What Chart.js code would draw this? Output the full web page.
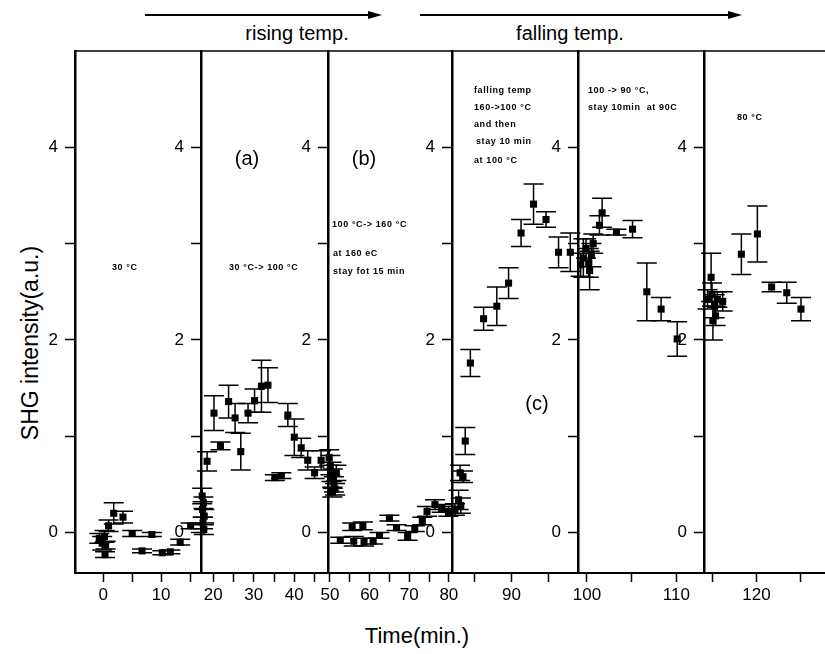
<!DOCTYPE html>
<html>
<head>
<meta charset="utf-8">
<script src="https://cdn.jsdelivr.net/npm/chart.js@4.4.1/dist/chart.umd.min.js"></script>
<style>
  body { margin: 0; background: #fff; }
  #wrap { position: relative; width: 825px; height: 654px; overflow: hidden; font-family: "Liberation Sans", Arial, sans-serif; color: #000; }
  canvas { position: absolute; top: 0; }
  .note { position: absolute; font-weight: bold; font-size: 9px; letter-spacing: 0.6px; white-space: pre; line-height: 17px; }
  .tag { position: absolute; font-size: 20px; transform: translate(-50%, -50%); }
  .head { position: absolute; font-size: 20px; transform: translate(-50%, -50%); white-space: pre; }
  .arrow { position: absolute; height: 1.5px; background: #000; }
  .head-tri { position: absolute; width: 0; height: 0; border-top: 4px solid transparent; border-bottom: 4px solid transparent; border-left: 14px solid #000; }
</style>
</head>
<body>
<div id="wrap">
  <div class="arrow" style="left:145px; top:14px; width:225px;"></div>
  <div class="head-tri" style="left:368px; top:10.5px;"></div>
  <div class="head" style="left:297px; top:33px;">rising temp.</div>
  <div class="arrow" style="left:420px; top:14px; width:310px;"></div>
  <div class="head-tri" style="left:728px; top:10.5px;"></div>
  <div class="head" style="left:570px; top:33px;">falling temp.</div>

  <div class="head" style="left:30px; top:343px; font-size:23px; transform: translate(-50%, -50%) rotate(-90deg);">SHG intensity(a.u.)</div>
  <div class="head" style="left:417px; top:636px; font-size:22px;">Time(min.)</div>
</div>
<script>
// panel 1 : 30 C
var p1Time = [-0.7, -0.2, 0.2, 0.4, 0.3, 0.9, 1.8, 3.4, 5.0, 6.7, 8.4, 10.2, 11.6, 13.3, 15.1];
var p1SHG  = [-0.06, -0.11, -0.04, -0.13, -0.23, 0.07, 0.20, 0.16, -0.01, -0.19, -0.02, -0.21, -0.20, -0.10, 0.07];
var p1Err  = [0.05, 0.07, 0.06, 0.04, 0.03, 0.06, 0.11, 0.06, 0.03, 0.02, 0.02, 0.02, 0.02, 0.03, 0.03];
// panel 2 : 30 -> 100 C
var p2Time = [17.3, 17.6, 17.4, 17.8, 17.5, 17.7, 18.5, 20.2, 21.8, 23.8, 25.4, 26.8, 28.6, 30.2, 31.9, 33.5, 35.2, 36.8, 38.4, 40.0, 41.7, 43.3, 45.0, 46.6];
var p2SHG  = [0.38, 0.31, 0.24, 0.17, 0.10, 0.03, 0.74, 1.24, 0.90, 1.36, 1.19, 0.84, 1.24, 1.37, 1.52, 1.53, 0.57, 0.59, 1.22, 0.99, 0.88, 0.75, 0.62, 0.75];
var p2Err  = [0.08, 0.06, 0.08, 0.07, 0.06, 0.05, 0.10, 0.18, 0.04, 0.17, 0.15, 0.19, 0.10, 0.12, 0.27, 0.18, 0.03, 0.03, 0.12, 0.19, 0.10, 0.10, 0.06, 0.10];
// panel 3 : 100 -> 160 C
var p3Time = [49.8, 50.1, 50.4, 50.7, 51.0, 51.3, 50.6, 51.6, 52.6, 55.6, 56.0, 58.3, 58.6, 60.9, 62.5, 65.0, 66.8, 69.6, 71.4, 73.3, 74.5, 76.5, 78.2, 79.9];
var p3SHG  = [0.78, 0.70, 0.63, 0.56, 0.50, 0.45, 0.42, 0.62, -0.08, 0.06, -0.09, 0.07, -0.10, -0.09, -0.03, 0.15, 0.05, -0.04, 0.04, 0.12, 0.22, 0.29, 0.25, 0.22];
var p3Err  = [0.08, 0.10, 0.10, 0.10, 0.08, 0.06, 0.05, 0.08, 0.03, 0.04, 0.05, 0.04, 0.04, 0.03, 0.03, 0.03, 0.03, 0.04, 0.03, 0.04, 0.05, 0.05, 0.04, 0.05];
// panel 4 : 160 -> 100 C
var p4Time = [82.3, 82.8, 83.1, 83.0, 83.4, 83.7, 84.4, 86.2, 88.0, 89.6, 91.3, 93.0, 94.7, 96.4, 98.0];
var p4SHG  = [0.24, 0.34, 0.28, 0.62, 0.58, 0.95, 1.76, 2.22, 2.35, 2.59, 3.11, 3.41, 3.25, 2.91, 2.91];
var p4Err  = [0.06, 0.10, 0.08, 0.08, 0.06, 0.14, 0.14, 0.12, 0.20, 0.16, 0.14, 0.21, 0.08, 0.16, 0.20];
// panel 5 : 100 -> 90 C
var p5Time = [99.3, 99.6, 99.9, 100.2, 100.5, 100.7, 100.3, 101.4, 101.7, 103.3, 105.1, 106.7, 108.3, 110.1];
var p5SHG  = [2.78, 2.85, 2.95, 2.80, 2.88, 3.00, 2.72, 3.19, 3.32, 3.12, 3.15, 2.50, 2.32, 2.01];
var p5Err  = [0.12, 0.20, 0.10, 0.15, 0.12, 0.10, 0.20, 0.10, 0.15, 0.03, 0.09, 0.30, 0.12, 0.18];
// panel 6 : 80 C
var p6Time = [114.5, 114.9, 115.0, 115.4, 115.1, 115.6, 116.2, 115.3, 118.3, 120.1, 121.7, 123.4, 125.0];
var p6SHG  = [2.42, 2.65, 2.47, 2.25, 2.20, 2.42, 2.40, 2.35, 2.89, 3.10, 2.55, 2.49, 2.32];
var p6Err  = [0.10, 0.25, 0.12, 0.10, 0.20, 0.08, 0.10, 0.12, 0.21, 0.29, 0.05, 0.11, 0.12];

// axis ranges of the six stacked graphs
var xMins = [-4.9, 17, 49.5, 81.9, 99.0, 114.1];
var xMaxs = [16.9, 48.3, 80.8, 99.05, 113.1, 127.7];
var yMin = -0.42, yMax = 5.0;
var yTickLabels = [0, 2, 4];

// panel notes
var notes = [
  [{x: 112, y: 267, t: "30 \u00b0C"}],
  [{x: 229, y: 267, t: "30 \u00b0C-> 100 \u00b0C"}],
  [{x: 332, y: 224, t: "100 \u00b0C-> 160 \u00b0C"}, {x: 333, y: 253, t: "at 160 eC"}, {x: 333, y: 271, t: "stay fot 15 min"}],
  [{x: 474, y: 90, t: "falling temp"}, {x: 474, y: 107, t: "160->100 \u00b0C"}, {x: 474, y: 124, t: "and then"}, {x: 476, y: 141, t: "stay 10 min"}, {x: 474, y: 160, t: "at 100 \u00b0C"}],
  [{x: 588, y: 90, t: "100 -> 90 \u00b0C,"}, {x: 588, y: 107, t: "stay 10min  at 90C"}],
  [{x: 737, y: 117, t: "80 \u00b0C"}]
];
var tags = [{x: 247, y: 158, t: "(a)"}, {x: 364, y: 158, t: "(b)"}, {x: 537, y: 403, t: "(c)"}];

var panels = [
  {t: p1Time, s: p1SHG, e: p1Err},
  {t: p2Time, s: p2SHG, e: p2Err},
  {t: p3Time, s: p3SHG, e: p3Err},
  {t: p4Time, s: p4SHG, e: p4Err},
  {t: p5Time, s: p5SHG, e: p5Err},
  {t: p6Time, s: p6SHG, e: p6Err}
];
var panelLeft = [75, 201, 328, 452, 578, 704];
var panelRight = [201, 328, 452, 578, 704, 825];

var YW = 45, XH = 40, RP = 20, TOP = 51, BOTTOM = 573;

var errorBars = {
  id: 'errorBars',
  afterDatasetsDraw: function (chart) {
    var ctx = chart.ctx, xs = chart.scales.x, ys = chart.scales.y;
    var ds = chart.data.datasets[0];
    ctx.save();
    ctx.strokeStyle = '#000';
    ctx.lineWidth = 1.5;
    ds.data.forEach(function (p, i) {
      var px = xs.getPixelForValue(p.x);
      var top = ys.getPixelForValue(p.y + ds.err[i]);
      var bot = ys.getPixelForValue(p.y - ds.err[i]);
      ctx.beginPath();
      ctx.moveTo(px, top); ctx.lineTo(px, bot);
      ctx.moveTo(px - 10, top); ctx.lineTo(px + 10, top);
      ctx.moveTo(px - 10, bot); ctx.lineTo(px + 10, bot);
      ctx.stroke();
    });
    // top frame
    var a = chart.chartArea;
    ctx.lineWidth = 1.5;
    ctx.beginPath();
    ctx.moveTo(a.left, a.top); ctx.lineTo(a.right + 1, a.top);
    ctx.stroke();
    ctx.restore();
  }
};

var wrap = document.getElementById('wrap');
var tickFont = {family: 'Liberation Sans', size: 17};

panels.forEach(function (p, i) {
  var cv = document.createElement('canvas');
  cv.width = panelRight[i] - panelLeft[i] + YW + RP;
  cv.height = 654;
  cv.style.left = (panelLeft[i] - YW) + 'px';
  wrap.appendChild(cv);

  var pts = p.t.map(function (t, k) { return {x: t, y: p.s[k]}; });

  new Chart(cv, {
    type: 'scatter',
    data: {
      datasets: [{
        data: pts,
        err: p.e,
        pointStyle: 'rect',
        pointRadius: 5,
        backgroundColor: '#000',
        borderColor: '#000',
        borderWidth: 0,
        clip: false
      }]
    },
    options: {
      responsive: false,
      animation: false,
      events: [],
      layout: {padding: {left: 0, right: RP, top: TOP, bottom: 654 - BOTTOM - XH}},
      plugins: {legend: {display: false}, tooltip: {enabled: false}},
      scales: {
        x: {
          type: 'linear',
          min: xMins[i],
          max: xMaxs[i],
          afterFit: function (s) { s.height = XH; },
          grid: {drawOnChartArea: false, tickLength: 9, tickWidth: 1.5, tickColor: '#000'},
          border: {display: true, color: '#000', width: 2},
          ticks: {
            stepSize: 5, includeBounds: false, autoSkip: false, maxRotation: 0,
            padding: 3, color: '#000', font: tickFont,
            callback: function (v) { return Math.abs(v % 10) < 1e-6 ? String(v) : ''; }
          }
        },
        y: {
          type: 'linear',
          min: yMin,
          max: yMax,
          afterFit: function (s) { s.width = YW; },
          grid: {
            drawOnChartArea: false, tickLength: 10, tickWidth: 1.5,
            tickColor: function (c) { return c.tick && c.tick.value < 4.5 ? '#000' : 'rgba(0,0,0,0)'; }
          },
          border: {display: true, color: '#000', width: 2.5},
          ticks: {
            stepSize: 1, includeBounds: false, autoSkip: false,
            padding: 7, color: '#000', font: tickFont,
            callback: function (v) { return yTickLabels.indexOf(v) >= 0 ? String(v) : ''; }
          }
        }
      }
    },
    plugins: [errorBars]
  });
});

notes.forEach(function (list) {
  list.forEach(function (n) {
    var d = document.createElement('div');
    d.className = 'note';
    d.style.left = n.x + 'px';
    d.style.top = (n.y - 8) + 'px';
    d.textContent = n.t;
    wrap.appendChild(d);
  });
});
tags.forEach(function (n) {
  var d = document.createElement('div');
  d.className = 'tag';
  d.style.left = n.x + 'px';
  d.style.top = n.y + 'px';
  d.textContent = n.t;
  wrap.appendChild(d);
});
</script>
</body>
</html>
